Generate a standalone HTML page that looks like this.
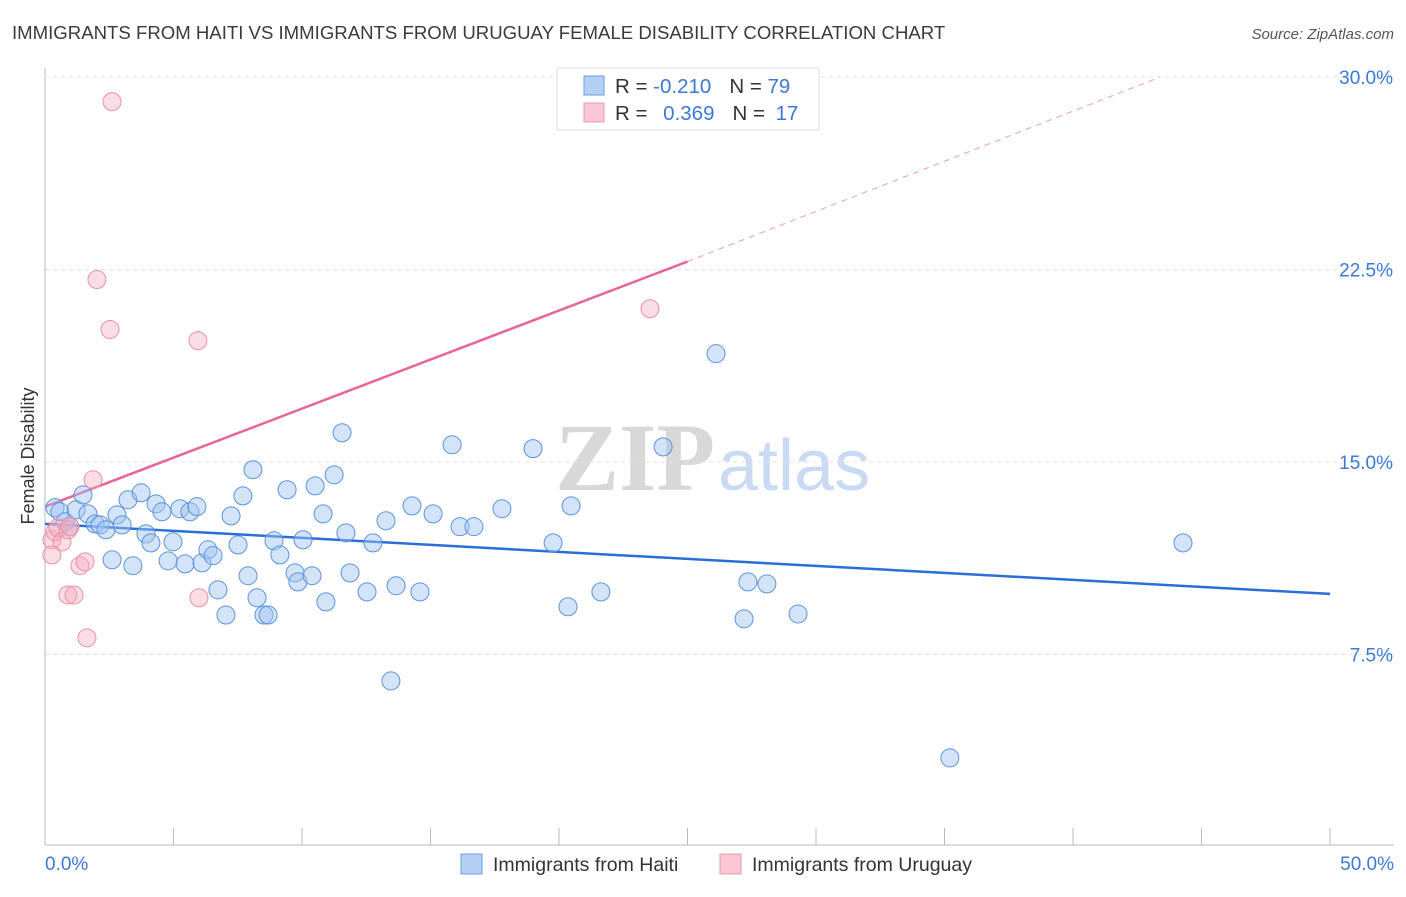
<!DOCTYPE html>
<html><head><meta charset="utf-8"><style>
body{margin:0;background:#fff;font-family:"Liberation Sans",sans-serif}
</style></head><body>
<svg width="1406" height="892" xmlns="http://www.w3.org/2000/svg" font-family="Liberation Sans, sans-serif">
<text x="12" y="39" font-size="18.6" fill="#3a3a3a">IMMIGRANTS FROM HAITI VS IMMIGRANTS FROM URUGUAY FEMALE DISABILITY CORRELATION CHART</text>
<text x="1394" y="39" font-size="15" fill="#555" font-style="italic" text-anchor="end">Source: ZipAtlas.com</text>
<g>
<text x="555" y="490" font-size="96" font-family="Liberation Serif, serif" fill="#d8d8d8" font-weight="bold">ZIP</text>
<text x="718" y="490" font-size="72" fill="#c9daf2">atlas</text>
</g>
<g id="grid"></g>
<line x1="45" y1="68" x2="45" y2="845" stroke="#bbb"/>
<line x1="45" y1="845" x2="1394" y2="845" stroke="#bbb"/>
<g id="trends"></g>
<g id="points"></g>
<g>
<rect x="557" y="68" width="262" height="62" fill="#fff" stroke="#ddd"/>
<rect x="584" y="76" width="20" height="19" fill="#b4d0f5" stroke="#6b9be0"/>
<rect x="584" y="103" width="20" height="19" fill="#f9c6d4" stroke="#e99ab1"/>
<text x="615" y="93" font-size="20.5" fill="#333">R = <tspan fill="#3b78d8">-0.210</tspan><tspan dx="18">N = </tspan><tspan fill="#3b78d8">79</tspan></text>
<text x="615" y="120" font-size="20.5" fill="#333">R = <tspan fill="#3b78d8" dx="10">0.369</tspan><tspan dx="18">N = </tspan><tspan fill="#3b78d8" dx="5">17</tspan></text>
</g>
<text transform="translate(34,456) rotate(-90)" font-size="18" fill="#333" text-anchor="middle">Female Disability</text>
<g id="ylabels"></g>
<text x="45" y="870" font-size="19" fill="#3b78d8">0.0%</text>
<text x="1394" y="870" font-size="19" fill="#3b78d8" text-anchor="end">50.0%</text>
<g>
<rect x="461" y="854" width="21" height="20" fill="#b4d0f5" stroke="#6b9be0"/>
<text x="493" y="871" font-size="19.5" fill="#333">Immigrants from Haiti</text>
<rect x="720" y="854" width="21" height="20" fill="#f9c6d4" stroke="#e99ab1"/>
<text x="752" y="871" font-size="19.5" fill="#333">Immigrants from Uruguay</text>
</g>
</svg>
<script>
const yTicks=[7.5,15,22.5,30];
const yTickLabels=["7.5%","15.0%","22.5%","30.0%"];
const xTicks=[5,10,15,20,25,30,35,40,45,50];
const haitiX=[0.39,0.58,0.78,0.97,1.21,1.48,1.67,1.95,2.14,2.37,2.61,2.80,3.00,3.23,3.42,3.74,3.93,4.12,4.32,4.55,4.79,4.98,5.25,5.45,5.64,5.91,6.11,6.34,6.54,6.73,7.04,7.24,7.51,7.70,7.90,8.09,8.25,8.52,8.68,8.91,9.14,9.42,9.73,9.84,10.04,10.39,10.51,10.82,10.93,11.25,11.56,11.71,11.87,12.53,12.76,13.27,13.46,13.66,14.28,14.59,15.10,15.84,16.15,16.69,17.78,18.99,19.77,20.35,20.47,21.63,24.05,26.11,27.20,27.35,28.09,29.30,35.21,44.28];
const haitiY=[13.22,13.06,12.67,12.48,13.14,13.72,12.98,12.59,12.55,12.36,11.19,12.94,12.55,13.53,10.96,13.80,12.20,11.85,13.37,13.06,11.15,11.89,13.18,11.03,13.06,13.26,11.07,11.58,11.35,10.02,9.04,12.90,11.77,13.68,10.57,14.70,9.71,9.04,9.04,11.93,11.38,13.92,10.68,10.33,11.97,10.57,14.07,12.98,9.55,14.50,16.14,12.24,10.68,9.94,11.85,12.71,6.47,10.18,13.29,9.94,12.98,15.67,12.48,12.48,13.18,15.52,11.85,9.36,13.29,9.94,15.59,19.22,8.89,10.33,10.25,9.08,3.47,11.85];
const uruX=[0.27,0.39,0.51,0.66,0.89,0.97,1.36,1.56,0.89,1.13,1.63,1.87,2.02,2.53,2.61,5.95,5.99,23.54,0.27];
const uruY=[11.97,12.28,12.44,11.89,12.36,12.48,10.96,11.11,9.82,9.82,8.15,14.31,22.11,20.16,29.04,19.73,9.71,20.97,11.38];
const haitiTrend=[[0,12.59],[50,9.86]];
const uruTrendSolid=[[0,13.26],[25,22.81]];
const uruTrendDash=[[25,22.81],[43.4,30]];
const X=v=>45+v*1285/50;
const Y=v=>847-v*192.5/7.5;
const NS="http://www.w3.org/2000/svg";
function mk(tag,attrs,parent){const e=document.createElementNS(NS,tag);for(const k in attrs)e.setAttribute(k,attrs[k]);document.getElementById(parent).appendChild(e);return e;}
yTicks.forEach((t,i)=>{
 const l=mk('line',{x1:45,x2:1394,y1:Y(t),y2:Y(t),stroke:'#e2e2e2','stroke-dasharray':'4,4'},'grid');
 
 
 const tx=mk('text',{x:1393,y:Y(t)+7,'font-size':19,fill:'#3b78d8','text-anchor':'end'},'ylabels');
 tx.textContent=yTickLabels[i];
 
 
});
xTicks.forEach(t=>{
 const l=mk('line',{x1:X(t),x2:X(t),y1:828,y2:845,stroke:'#bbb'},'grid');
 
 
});
function line(p,color,w,dash,name){
 const a={x1:X(p[0][0]),y1:Y(p[0][1]),x2:X(p[1][0]),y2:Y(p[1][1]),stroke:color,'stroke-width':w};
 if(dash)a['stroke-dasharray']=dash;
 const l=mk('line',a,'trends');
 
 
}
haitiX.forEach((x,i)=>{
 const c=mk('circle',{cx:X(x),cy:Y(haitiY[i]),r:9,fill:'rgba(160,196,240,0.45)',stroke:'#5b93e0','stroke-width':1},'points');
 
 
});
uruX.forEach((x,i)=>{
 const c=mk('circle',{cx:X(x),cy:Y(uruY[i]),r:9,fill:'rgba(245,170,190,0.4)',stroke:'#e990aa','stroke-width':1},'points');
 
 
});
line(haitiTrend,'#2a6fd6',2.5,null,'haiti-trend-line');
line(uruTrendSolid,'#e8649a',2.5,null,'uruguay-trend-line');
line(uruTrendDash,'#eeaac4',1.2,'6,5','uruguay-trend-extension');
</script>
</body></html>
